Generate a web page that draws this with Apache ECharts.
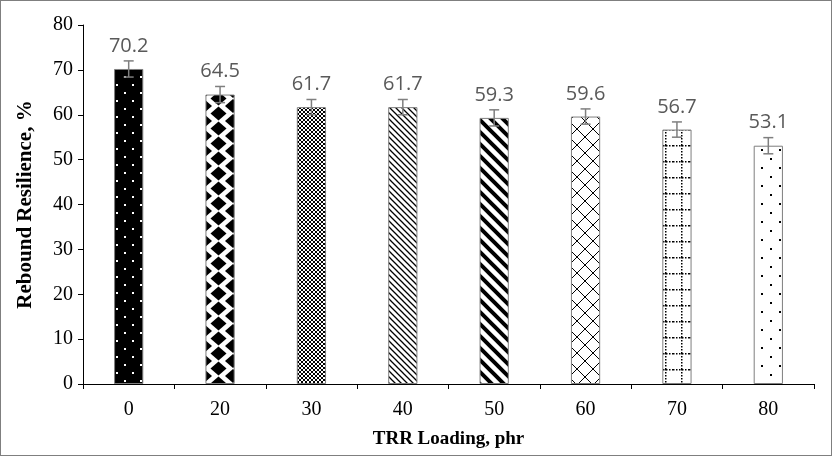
<!DOCTYPE html>
<html>
<head>
<meta charset="utf-8">
<script src="https://cdn.jsdelivr.net/npm/echarts@6/dist/echarts.min.js"></script>
<style>
html,body{margin:0;padding:0;background:#fff;}
#wrap{width:832px;height:456px;box-sizing:border-box;border:1px solid #7f7f7f;}
#chart{width:830px;height:454px;}
</style>
</head>
<body>
<div id="wrap"><div id="chart"></div></div>
<script>
var categories = ['0','20','30','40','50','60','70','80'];
var values = [70.2, 64.5, 61.7, 61.7, 59.3, 59.6, 56.7, 53.1];
var errors = [1.8, 1.8, 1.7, 1.7, 1.8, 1.7, 1.7, 1.8];
var yTicks = [0,10,20,30,40,50,60,70,80];

function tile(w, h, draw) {
  var c = document.createElement('canvas');
  c.width = w; c.height = h;
  var g = c.getContext('2d');
  draw(g, w, h);
  return {image: c, repeat: 'repeat'};
}
var patterns = [
  // 0: black with white dots
  tile(16, 16, function(g){ g.fillStyle='#000'; g.fillRect(0,0,16,16); g.fillStyle='#fff'; g.fillRect(3,3,2,2); g.fillRect(11,11,2,2); }),
  // 20: black diamonds on white
  tile(29, 15, function(g){ g.fillStyle='#fff'; g.fillRect(0,0,29,15); g.fillStyle='#000';
    var a = 8, b = 7;
    var pts=[[0,0],[29,0],[0,15],[29,15],[14.5,7.5]];
    pts.forEach(function(p){ g.beginPath(); g.moveTo(p[0],p[1]-b); g.lineTo(p[0]+a,p[1]); g.lineTo(p[0],p[1]+b); g.lineTo(p[0]-a,p[1]); g.closePath(); g.fill(); }); }),
  // 30: fine checker
  tile(4, 4, function(g){ g.fillStyle='#fff'; g.fillRect(0,0,4,4); g.fillStyle='#000'; g.fillRect(0,0,2,2); g.fillRect(2,2,2,2); }),
  // 40: thin down diagonals
  tile(6, 6, function(g){ g.fillStyle='#fff'; g.fillRect(0,0,6,6); g.strokeStyle='#000'; g.lineWidth=1.3;
    g.beginPath(); g.moveTo(-1,-1); g.lineTo(7,7); g.moveTo(-4,2); g.lineTo(4,10); g.moveTo(2,-4); g.lineTo(10,4); g.stroke(); }),
  // 50: thick down diagonals
  tile(12, 12, function(g){ g.fillStyle='#fff'; g.fillRect(0,0,12,12); g.strokeStyle='#000'; g.lineWidth=4;
    g.beginPath(); g.moveTo(-2,-2); g.lineTo(14,14); g.moveTo(-8,4); g.lineTo(8,20); g.moveTo(4,-8); g.lineTo(20,8); g.stroke(); }),
  // 60: lattice
  tile(16, 16, function(g){ g.fillStyle='#fff'; g.fillRect(0,0,16,16); g.strokeStyle='#000'; g.lineWidth=1;
    g.beginPath(); g.moveTo(0,0); g.lineTo(16,16); g.moveTo(16,0); g.lineTo(0,16); g.stroke(); }),
  // 70: dotted grid
  tile(16, 16, function(g){ g.fillStyle='#fff'; g.fillRect(0,0,16,16); g.fillStyle='#000';
    for (var i=0;i<16;i+=3){ g.fillRect(i,0,1.5,1.5); g.fillRect(8,i,1.5,1.5); } }),
  // 80: sparse dots
  tile(18, 18, function(g){ g.fillStyle='#fff'; g.fillRect(0,0,18,18); g.fillStyle='#000'; g.fillRect(4,4,2,2); g.fillRect(13,13,2,2); })
];

var serif = '"Liberation Serif", "Times New Roman", serif';
var chart = echarts.init(document.getElementById('chart'));
chart.setOption({
  animation: false,
  backgroundColor: '#fff',
  grid: {left: 82, right: 17, top: 24, bottom: 71, containLabel: false},
  xAxis: {
    type: 'category', data: categories,
    name: 'TRR Loading, phr', nameLocation: 'middle', nameGap: 46,
    nameTextStyle: {fontFamily: serif, fontWeight: 'bold', fontSize: 19, color: '#000'},
    axisLine: {lineStyle: {color: '#000', width: 1}},
    axisTick: {show: true, length: 5, lineStyle: {color: '#000'}},
    axisLabel: {fontFamily: serif, fontSize: 20, color: '#000', margin: 16}
  },
  yAxis: {
    type: 'value', min: 0, max: 80, interval: 10,
    name: 'Rebound Resilience, %', nameLocation: 'middle', nameGap: 47,
    nameTextStyle: {fontFamily: serif, fontWeight: 'bold', fontSize: 21, color: '#000'},
    axisLine: {show: true, lineStyle: {color: '#000', width: 1}},
    axisTick: {show: true, length: 5, lineStyle: {color: '#000'}},
    axisLabel: {fontFamily: serif, fontSize: 20, color: '#000', margin: 10,
      formatter: function(v){ return yTicks.indexOf(v) >= 0 ? String(v) : ''; }},
    splitLine: {show: false}
  },
  series: [
    {
      type: 'bar', barWidth: '32%',
      data: values.map(function(v, i){ return {value: v, itemStyle: {color: patterns[i]}}; }),
      itemStyle: {borderColor: '#7f7f7f', borderWidth: 1}
    },
    {
      type: 'custom', z: 5,
      data: values.map(function(v, i){ return [i, v, errors[i]]; }),
      renderItem: function(params, api){
        var x = api.value(0), v = api.value(1), e = api.value(2);
        var top = api.coord([x, v + e]);
        var bot = api.coord([x, v - e]);
        var half = 5;
        var st = {stroke: '#7f7f7f', lineWidth: 1.5};
        return {type: 'group', children: [
          {type: 'line', shape: {x1: top[0], y1: top[1], x2: bot[0], y2: bot[1]}, style: st},
          {type: 'line', shape: {x1: top[0]-half, y1: top[1], x2: top[0]+half, y2: top[1]}, style: st},
          {type: 'line', shape: {x1: bot[0]-half, y1: bot[1], x2: bot[0]+half, y2: bot[1]}, style: st},
          {type: 'text', style: {text: values[params.dataIndex].toFixed(1), x: top[0], y: top[1] - 5,
            textAlign: 'center', textVerticalAlign: 'bottom', fill: '#595959',
            font: '20px "Open Sans", "Noto Sans", sans-serif'}}
        ]};
      }
    }
  ]
});
</script>
</body>
</html>
